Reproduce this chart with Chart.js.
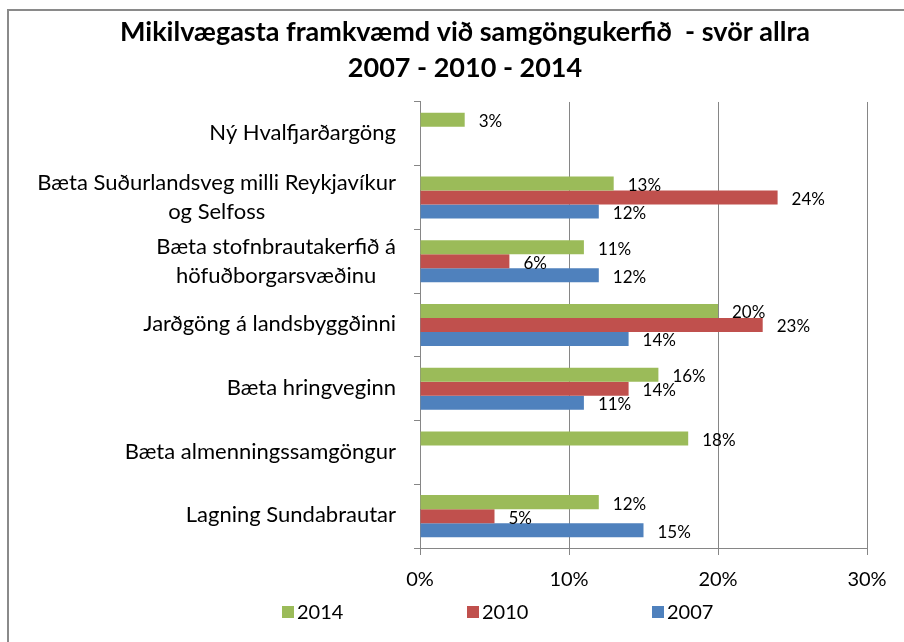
<!DOCTYPE html>
<html>
<head>
<meta charset="utf-8">
<script src="https://cdn.jsdelivr.net/npm/chart.js@4/dist/chart.umd.min.js"></script>
<style>
  html, body { margin: 0; padding: 0; background: #fff; }
  #wrap { width: 904px; height: 642px; }
</style>
</head>
<body>
<div id="wrap"><canvas id="c" width="904" height="642"></canvas></div>
<script>
const titleLines = ["Mikilvægasta framkvæmd við samgöngukerfið  - svör allra", "2007 - 2010 - 2014"];
const categories = [
  "Ný Hvalfjarðargöng",
  ["Bæta Suðurlandsveg milli Reykjavíkur", "og Selfoss"],
  ["Bæta stofnbrautakerfið á", "höfuðborgarsvæðinu"],
  "Jarðgöng á landsbyggðinni",
  "Bæta hringveginn",
  "Bæta almenningssamgöngur",
  "Lagning Sundabrautar"
];
const seriesNames = ["2014", "2010", "2007"];
const values2014 = [3, 13, 11, 20, 16, 18, 12];
const values2010 = [null, 24, 6, 23, 14, null, 5];
const values2007 = [null, 12, 12, 14, 11, null, 15];
const xTickValues = [0, 10, 20, 30];

const colors = ["#9BBB59", "#C0504D", "#4F81BD"];
const FONT = "Lato";
const GRID = "#868686";

const frame = {
  id: "frame",
  beforeDraw(chart) {
    const ctx = chart.ctx;
    ctx.save();
    ctx.fillStyle = "#fff";
    ctx.fillRect(0, 0, chart.width, chart.height);
    ctx.strokeStyle = "#8a8a8a";
    ctx.lineWidth = 2;
    ctx.strokeRect(8, 10, 2000, 2000);
    ctx.restore();
  }
};

const categoryLabels = {
  id: "categoryLabels",
  afterDraw(chart) {
    const ctx = chart.ctx;
    const ys = chart.scales.y;
    ctx.save();
    ctx.font = "22px " + FONT;
    ctx.fillStyle = "#000";
    ctx.textBaseline = "middle";
    const right = ys.right - 24;
    const lineH = 29;
    chart.data.labels.forEach((lab, i) => {
      const yc = ys.getPixelForTick(i);
      if (Array.isArray(lab)) {
        const maxW = Math.max(...lab.map(l => ctx.measureText(l).width));
        const cx = right - maxW / 2;
        const y0 = yc - (lab.length - 1) * lineH / 2;
        ctx.textAlign = "center";
        lab.forEach((line, k) => ctx.fillText(line, cx, y0 + k * lineH));
      } else {
        ctx.textAlign = "right";
        ctx.fillText(lab, right, yc - 1);
      }
    });
    ctx.restore();
  }
};

const dataLabels = {
  id: "dataLabels",
  afterDatasetsDraw(chart) {
    const ctx = chart.ctx;
    ctx.save();
    ctx.font = "17px " + FONT;
    ctx.fillStyle = "#000";
    ctx.textAlign = "left";
    ctx.textBaseline = "middle";
    chart.data.datasets.forEach((ds, i) => {
      const meta = chart.getDatasetMeta(i);
      meta.data.forEach((el, j) => {
        const v = ds.data[j];
        if (v === null || v === undefined) return;
        ctx.fillText(v + "%", el.x + 14, el.y + 2);
      });
    });
    ctx.restore();
  }
};

const customLegend = {
  id: "customLegend",
  afterDraw(chart) {
    const ctx = chart.ctx;
    ctx.save();
    ctx.font = "20px " + FONT;
    ctx.textAlign = "left";
    ctx.textBaseline = "middle";
    const startX = 282, step = 185, y = 612;
    chart.data.datasets.forEach((ds, i) => {
      const x = startX + i * step;
      ctx.fillStyle = ds.backgroundColor;
      ctx.fillRect(x, y - 6, 12, 12);
      ctx.fillStyle = "#000";
      ctx.fillText(ds.label, x + 15, y + 1);
    });
    ctx.restore();
  }
};

new Chart(document.getElementById("c"), {
  type: "bar",
  data: {
    labels: categories,
    datasets: [
      { label: seriesNames[0], data: values2014, backgroundColor: colors[0] },
      { label: seriesNames[1], data: values2010, backgroundColor: colors[1] },
      { label: seriesNames[2], data: values2007, backgroundColor: colors[2] }
    ]
  },
  options: {
    indexAxis: "y",
    responsive: false,
    animation: false,
    datasets: {
      bar: {
        categoryPercentage: 0.66,
        barPercentage: 1.0,
        borderWidth: 0
      }
    },
    layout: { padding: { left: 63, right: 37, top: 0, bottom: 49 } },
    plugins: {
      legend: { display: false },
      tooltip: { enabled: false },
      title: {
        display: true,
        text: titleLines,
        color: "#000",
        font: { family: FONT, size: 27, weight: "bold", lineHeight: 1.333 },
        padding: { top: 14, bottom: 16 }
      }
    },
    scales: {
      x: {
        min: 0,
        max: 30,
        afterBuildTicks(scale) { scale.ticks = xTickValues.map(v => ({ value: v })); },
        afterFit(scale) { scale.height = 45; },
        ticks: {
          callback: v => v + "%",
          color: "#000",
          font: { family: FONT, size: 20 },
          padding: 13,
          maxRotation: 0
        },
        grid: { color: GRID, tickLength: 7, lineWidth: 1 },
        border: { color: GRID, width: 1 }
      },
      y: {
        afterFit(scale) { scale.width = 357; },
        ticks: { display: false },
        grid: { drawOnChartArea: false, color: GRID, tickLength: 6, offset: true },
        border: { color: GRID, width: 1 }
      }
    }
  },
  plugins: [frame, dataLabels, categoryLabels, customLegend]
});
</script>
</body>
</html>
